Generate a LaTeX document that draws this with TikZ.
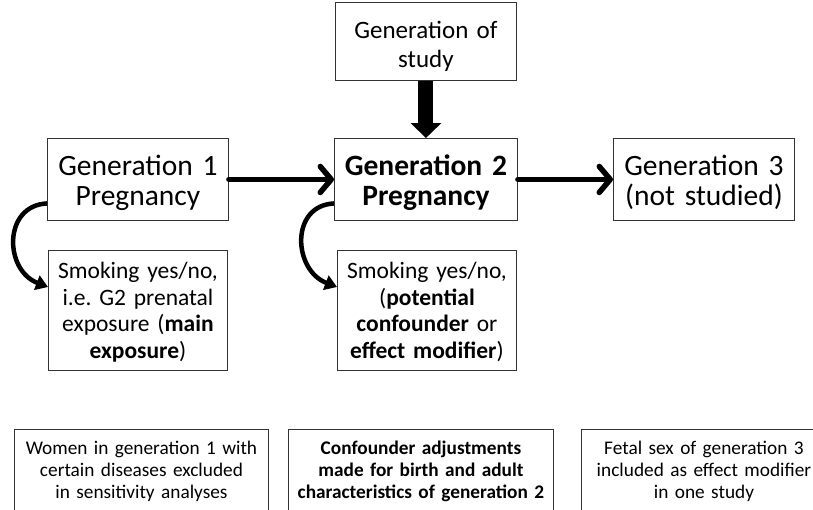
\documentclass[tikz,border=0pt]{standalone}
\usepackage{fontspec}
\setmainfont{Carlito}
\usetikzlibrary{arrows.meta}

\begin{document}
\begin{tikzpicture}[x=1pt, y=-1pt,
    genbox/.style={draw=black!80, line width=0.9pt, inner sep=0pt, align=center,
      anchor=north west, text width=181pt, text height=37pt, text depth=45pt,
      font=\fontsize{29.5}{30}\selectfont},
    smokebox/.style={genbox, text width=179pt, text height=28pt, text depth=92pt,
      font=\fontsize{23.5}{26.7}\selectfont},
    notebox/.style={genbox, text height=25pt, text depth=95pt,
      font=\fontsize{19.3}{22}\selectfont},
    gen/.style={line width=5.5pt, line cap=round,
      -{Straight Barb[length=11pt, width=26pt, round]}},
    curvearrow/.style={line width=4.5pt, -{Triangle[length=12pt, width=15pt]}}]
  \useasboundingbox (0,0) rectangle (813,509);
  \clip (0,0) rectangle (813,509);

  % generations
  \node [genbox, text height=36pt, text depth=42pt,
    font=\fontsize{25}{29}\selectfont] (g0) at (335,2) {Generation of\\study};
  \node [genbox] (g1) at (47,138) {Generation 1\\Pregnancy};
  \node [genbox, text width=183pt, font=\fontsize{29.5}{30}\selectfont\bfseries]
    (g2) at (334,138) {Generation 2\\Pregnancy};
  \node [genbox] (g3) at (613,138) {Generation 3\\(not studied)};

  % smoking
  \node [smokebox] (s1) at (48,250) {Smoking yes/no,\\i.e.\ G2 prenatal\\exposure (\textbf{main}\\\textbf{exposure})};
  \node [smokebox] (s2) at (337,250) {Smoking yes/no,\\(\textbf{potential}\\\textbf{confounder} or\\\textbf{effect modifier})};

  % notes
  \node [notebox, text width=254pt] (n1) at (14,429) {Women in generation 1 with\\certain diseases excluded\\in sensitivity analyses};
  \node [notebox, text width=265pt, font=\fontsize{19.3}{22}\selectfont\bfseries] (n2) at (288,429) {Confounder adjustments\\made for birth and adult\\characteristics of generation 2};
  \node [notebox, text width=245pt] (n3) at (581,429) {Fetal sex of generation 3\\included as effect modifier\\in one study};

  \draw [line width=15pt, -{Triangle[length=15pt, width=30pt]}] (g0) -- (g2);
  \draw [gen] (g1) -- (g2);
  \draw [gen] (g2) -- (g3);
  \draw [curvearrow] ([yshift=-24pt]g1.west) .. controls +(-44,2) and +(-44,-17) .. ([yshift=-37pt]s1.north west);
  \draw [curvearrow] ([yshift=-24pt]g2.west) .. controls +(-44,2) and +(-44,-17) .. ([yshift=-37pt]s2.north west);
\end{tikzpicture}
\end{document}
